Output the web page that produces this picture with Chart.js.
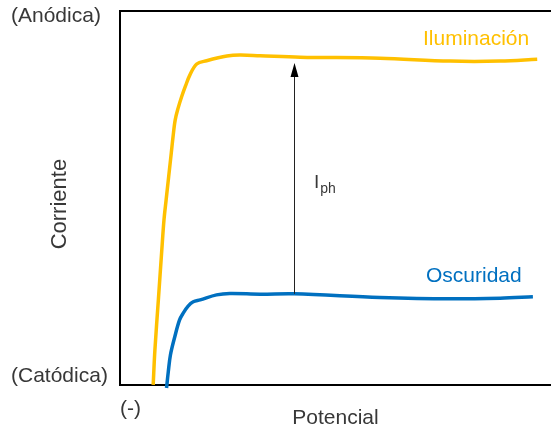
<!DOCTYPE html>
<html>
<head>
<meta charset="utf-8">
<script src="https://cdn.jsdelivr.net/npm/chart.js@4.4.1/dist/chart.umd.min.js"></script>
<style>
  html, body { margin: 0; padding: 0; background: #ffffff; }
  #wrap { width: 551px; height: 430px; }
</style>
</head>
<body>
<div id="wrap"><canvas id="chart" width="551" height="430"></canvas></div>
<script>
// Potential (arbitrary units) and current (arbitrary units) for each curve
const lightPotential = [7.7, 8.1, 8.9, 9.7, 10.2, 10.7, 11.9, 12.3, 12.8, 13.5, 14.3, 15.2, 16.2, 17.8, 20.1, 24.8, 27.8, 32.5, 41.8, 60.3, 76.6, 88.2, 96.8];
const lightCurrent   = [-2.4, 7.3, 21.2, 35.1, 43.4, 49.0, 62.1, 66.5, 71.2, 74.6, 77.7, 80.7, 83.7, 86.8, 87.7, 89.0, 89.3, 89.1, 88.7, 88.4, 87.6, 87.6, 88.1];

const darkPotential = [10.8, 11.2, 11.7, 12.7, 13.8, 14.7, 15.8, 17.0, 18.6, 22.4, 25.5, 32.5, 40.4, 60.3, 76.6, 88.2, 95.8];
const darkCurrent   = [-3.3, 1.2, 5.9, 10.9, 15.6, 17.6, 19.5, 20.7, 21.2, 22.6, 23.0, 22.8, 22.9, 21.9, 21.5, 21.7, 22.1];

const seriesNames = ['Iluminación', 'Oscuridad'];

// Photocurrent arrow: potential, and current span from dark to light curve
const iphPotential = 40.4;
const iphSpan = [22.9, 87.1];

// Axis tick labels
const currentTickValues = [0, 100];
const currentTickLabels = ['(Catódica)', '(Anódica)'];
const potentialTickValues = [0];
const potentialTickLabels = ['(-)'];

const FONT = 'Liberation Sans, Arial, sans-serif';
const TEXT = '#383838';
const ORANGE = '#FFC000';
const BLUE = '#0070C0';

const toPoints = (xs, ys) => xs.map((x, i) => ({ x: x, y: ys[i] }));

// Curve labels, photocurrent arrow and its label
const annotations = {
  id: 'annotations',
  afterDatasetsDraw(chart) {
    const { ctx, scales: { x, y } } = chart;
    ctx.save();

    ctx.font = '21px ' + FONT;
    ctx.textBaseline = 'alphabetic';
    ctx.textAlign = 'left';
    ctx.fillStyle = ORANGE;
    ctx.fillText(seriesNames[0], x.getPixelForValue(70.3), y.getPixelForValue(92.1));
    ctx.fillStyle = BLUE;
    ctx.fillText(seriesNames[1], x.getPixelForValue(71.0), y.getPixelForValue(26.1));

    // arrow
    const ax = Math.round(x.getPixelForValue(iphPotential)) + 0.5;
    const yBase = y.getPixelForValue(iphSpan[0]);
    const yTip = y.getPixelForValue(iphSpan[1]);
    const headLen = 14, headHalf = 4;
    ctx.strokeStyle = '#222';
    ctx.lineWidth = 1;
    ctx.beginPath();
    ctx.moveTo(ax, yBase);
    ctx.lineTo(ax, yTip + headLen - 1);
    ctx.stroke();
    ctx.fillStyle = '#000';
    ctx.beginPath();
    ctx.moveTo(ax, yTip);
    ctx.lineTo(ax - headHalf, yTip + headLen);
    ctx.lineTo(ax + headHalf, yTip + headLen);
    ctx.closePath();
    ctx.fill();

    // I_ph
    ctx.fillStyle = TEXT;
    const ix = x.getPixelForValue(45.0);
    const iy = y.getPixelForValue(52.3);
    ctx.font = '19px ' + FONT;
    ctx.fillText('I', ix, iy);
    const iw = ctx.measureText('I').width;
    ctx.font = '14px ' + FONT;
    ctx.fillText('ph', ix + iw + 1, iy + 5);

    ctx.restore();
  }
};

const curveStyle = {
  borderWidth: 3.5,
  pointRadius: 0,
  tension: 0.35,
  clip: 6
};

new Chart(document.getElementById('chart'), {
  type: 'line',
  data: {
    datasets: [
      Object.assign({
        label: seriesNames[0],
        data: toPoints(lightPotential, lightCurrent),
        borderColor: ORANGE
      }, curveStyle),
      Object.assign({
        label: seriesNames[1],
        data: toPoints(darkPotential, darkCurrent),
        borderColor: BLUE
      }, curveStyle)
    ]
  },
  options: {
    responsive: false,
    animation: false,
    events: [],
    layout: { autoPadding: false, padding: { left: 11, top: 0, right: 0, bottom: 0 } },
    plugins: { legend: { display: false }, tooltip: { enabled: false } },
    scales: {
      x: {
        type: 'linear',
        position: 'bottom',
        min: 0,
        max: 100,
        grid: { display: false, drawTicks: false },
        border: { display: true, color: '#000', width: 2 },
        afterBuildTicks: s => { s.ticks = potentialTickValues.map(v => ({ value: v })); },
        afterFit: s => { s.height = 45; },
        ticks: {
          align: 'start',
          padding: 14,
          color: TEXT,
          font: { family: FONT, size: 21, lineHeight: 1 },
          callback: (v) => potentialTickLabels[potentialTickValues.indexOf(v)]
        },
        title: {
          display: true,
          text: 'Potencial',
          color: TEXT,
          font: { family: FONT, size: 21, lineHeight: 1 },
          padding: { top: 0, bottom: 1 }
        }
      },
      xTop: {
        type: 'linear',
        position: 'top',
        min: 0,
        max: 100,
        grid: { display: false, drawTicks: false },
        border: { display: true, color: '#000', width: 2 },
        ticks: { display: false },
        afterFit: s => { s.height = 11; }
      },
      y: {
        type: 'linear',
        position: 'left',
        min: -2.45,
        max: 101.53,
        grid: { display: false, drawTicks: false },
        border: { display: true, color: '#000', width: 2 },
        afterBuildTicks: s => { s.ticks = currentTickValues.map(v => ({ value: v })); },
        afterFit: s => { s.width = 109; },
        ticks: {
          crossAlign: 'far',
          padding: 0,
          color: TEXT,
          font: { family: FONT, size: 21, lineHeight: 1 },
          callback: (v) => currentTickLabels[currentTickValues.indexOf(v)]
        },
        title: {
          display: true,
          text: 'Corriente  ',
          color: TEXT,
          font: { family: FONT, size: 22, lineHeight: 1.2 },
          padding: { top: 36, bottom: 0 }
        }
      }
    }
  },
  plugins: [annotations]
});
</script>
</body>
</html>
